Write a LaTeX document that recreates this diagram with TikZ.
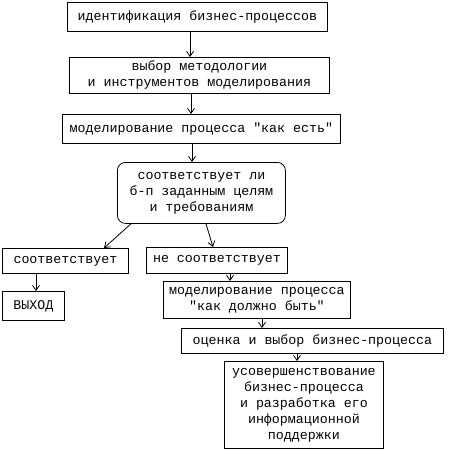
\documentclass[tikz,border=0pt]{standalone}
\usepackage{fontspec}
\setmonofont{Liberation Mono}
\usetikzlibrary{arrows.meta,calc}
\tikzset{
  box/.style={draw, line width=0.8pt, anchor=north west, inner sep=0pt, align=center,
    font=\ttfamily\fontsize{13.3}{16}\selectfont},
  arr/.style={line width=0.8pt, -{Straight Barb[length=5pt,width=7pt,line width=0.8pt]}}
}
\begin{document}
\begin{tikzpicture}[x=1pt,y=-1pt]
\useasboundingbox (0,0) rectangle (450,452);
\node[box, minimum width=260pt, minimum height=29pt] (b1) at (67,2) {идентификация бизнес-процессов};
\node[box, minimum width=260pt, minimum height=36pt] (b2) at (69,57) {выбор методологии\\и инструментов моделирования};
\node[box, minimum width=278pt, minimum height=29pt] (b3) at (62,114) {моделирование процесса "как есть"};
\node[box, minimum width=168pt, minimum height=61pt, rounded corners=8pt] (b4) at (117,162) {соответствует ли\\б-п заданным целям\\и требованиям};
\node[box, minimum width=126pt, minimum height=25pt] (b5) at (2,248) {соответствует};
\node[box, minimum width=141pt, minimum height=26pt] (b6) at (146,247) {не соответствует};
\node[box, minimum width=62pt, minimum height=29pt] (b7) at (2,291) {ВЫХОД};
\node[box, minimum width=187pt, minimum height=37pt] (b8) at (163,281) {моделирование процесса\\"как должно быть"};
\node[box, minimum width=262pt, minimum height=25pt] (b9) at (181,328) {оценка и выбор бизнес-процесса};
\node[box, minimum width=159pt, minimum height=87pt] (b10) at (224,361) {усовершенствование\\бизнес-процесса\\и разработка его\\информационной\\поддержки};
\draw[arr] ($(b1.south west)+(123,0)$) -- ($(b2.north west)+(121,0)$);
\draw[arr] ($(b2.south west)+(122,0)$) -- ($(b3.north west)+(129,0)$);
\draw[arr] ($(b3.south west)+(130,0)$) -- ($(b4.north west)+(75,0)$);
\draw[arr] ($(b4.south west)+(14,0)$) -- ($(b5.north west)+(102,0)$);
\draw[arr] ($(b4.south west)+(89,0)$) -- ($(b6.north west)+(67,0)$);
\draw[arr] ($(b5.south west)+(34,0)$) -- ($(b7.north west)+(34,0)$);
\draw[arr] ($(b6.south west)+(84,0)$) -- ($(b8.north west)+(67,0)$);
\draw[arr] ($(b8.south west)+(99,0)$) -- ($(b9.north west)+(81,0)$);
\draw[arr] ($(b9.south west)+(116,0)$) -- ($(b10.north west)+(73,0)$);
\end{tikzpicture}
\end{document}
